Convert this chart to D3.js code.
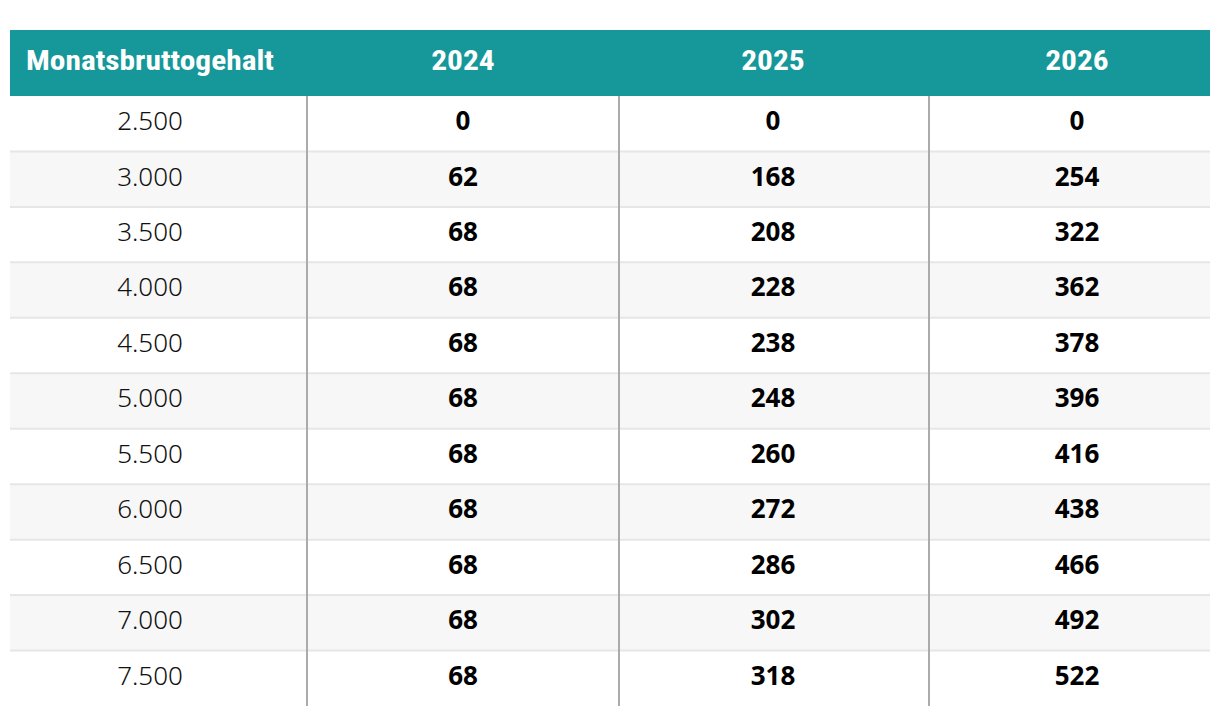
<!DOCTYPE html>
<html><head><meta charset="utf-8">
<script src="https://cdn.jsdelivr.net/npm/d3@7"></script>
<style>
html,body{margin:0;padding:0;background:#fff;}
</style></head>
<body>
<svg id="chart" width="1220" height="716"></svg>
<script>
const headers = ["Monatsbruttogehalt", "2024", "2025", "2026"];
const salaries = ["2.500","3.000","3.500","4.000","4.500","5.000","5.500","6.000","6.500","7.000","7.500"];
const values2024 = [0, 62, 68, 68, 68, 68, 68, 68, 68, 68, 68];
const values2025 = [0, 168, 208, 228, 238, 248, 260, 272, 286, 302, 318];
const values2026 = [0, 254, 322, 362, 378, 396, 416, 438, 466, 492, 522];

const rows = salaries.map((s, i) => [s, values2024[i], values2025[i], values2026[i]]);

const svg = d3.select("#chart");
const left = 10, right = 1210, headTop = 30, headBottom = 96, bottom = 706;
const colEdges = [10, 307, 619, 929, 1210];
const colCenters = [150, 463, 773, 1077];

const y = d3.scaleBand().domain(d3.range(rows.length)).range([headBottom, bottom]).padding(0);
const x = d3.scaleOrdinal().domain(d3.range(headers.length)).range(colCenters);

// header
svg.append("rect").attr("x", left).attr("y", headTop).attr("width", right - left).attr("height", headBottom - headTop).attr("fill", "#16979a");

// row backgrounds
svg.selectAll("rect.row").data(rows).join("rect")
  .attr("class", "row")
  .attr("x", left).attr("width", right - left)
  .attr("y", (d, i) => y(i)).attr("height", y.bandwidth())
  .attr("fill", (d, i) => i % 2 ? "#f7f7f7" : "#ffffff");

// horizontal separators
svg.selectAll("line.hsep").data(d3.range(1, rows.length)).join("line")
  .attr("class", "hsep")
  .attr("x1", left).attr("x2", right)
  .attr("y1", i => y(i)).attr("y2", i => y(i))
  .attr("stroke", "#e6e6e6").attr("stroke-width", 2);

// vertical separators
svg.selectAll("line.vsep").data(colEdges.slice(1, 4)).join("line")
  .attr("class", "vsep")
  .attr("x1", d => d).attr("x2", d => d)
  .attr("y1", headBottom).attr("y2", bottom)
  .attr("stroke", "#ababab").attr("stroke-width", 2);

// header text
const ht = svg.selectAll("text.head").data(headers).join("text")
  .attr("class", "head")
  .attr("x", (d, i) => x(i)).attr("y", 70)
  .attr("text-anchor", "middle")
  .attr("fill", "#fff")
  .style("font-family", "'Liberation Sans Narrow', 'Roboto Condensed', 'DejaVu Sans Condensed', sans-serif")
  .style("font-weight", "bold")
  .style("font-size", "28px")
  .text(d => d);
// fit first header to target width
const hn = ht.nodes()[0];
const wlen = hn.getComputedTextLength();
hn.setAttribute("textLength", 248);
hn.setAttribute("lengthAdjust", "spacingAndGlyphs");
ht.filter((d, i) => i > 0).each(function () {
  const w = this.getComputedTextLength();
  this.setAttribute("textLength", w * 248 / wlen);
  this.setAttribute("lengthAdjust", "spacingAndGlyphs");
});

// cells
const g = svg.selectAll("g.r").data(rows).join("g").attr("class", "r")
  .attr("transform", (d, i) => `translate(0,${y(i) + y.bandwidth() / 2 - 2})`);
g.selectAll("text").data(d => d).join("text")
  .attr("x", (d, j) => x(j))
  .attr("y", 0)
  .attr("dy", "0.32em")
  .attr("text-anchor", "middle")
  .attr("fill", (d, j) => j === 0 ? "#111" : "#000")
  .style("font-family", "'Noto Sans', 'Open Sans', sans-serif")
  .style("font-weight", (d, j) => j === 0 ? 300 : 700)
  .style("font-size", "26px")
  .text(d => d);
</script>
</body></html>
